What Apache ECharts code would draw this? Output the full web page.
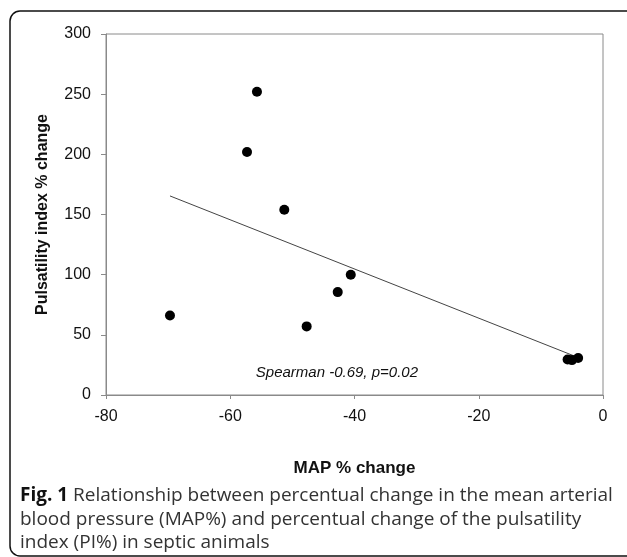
<!DOCTYPE html>
<html>
<head>
<meta charset="utf-8">
<script src="https://cdn.jsdelivr.net/npm/echarts@6/dist/echarts.min.js"></script>
<style>
html,body{margin:0;padding:0;background:#fff;}
#chart{width:627px;height:557px;}
</style>
</head>
<body>
<div id="chart"></div>
<script>
// ---- data ----
const mapChange = [-69.7, -57.3, -55.7, -51.3, -47.7, -42.7, -40.6, -5.7, -5.0, -4.0];
const piChange  = [66, 202, 252, 154, 57, 85.5, 100, 29.5, 29, 30.8];
const xTicks = [-80, -60, -40, -20, 0];
const yTicks = [0, 50, 100, 150, 200, 250, 300];
const statText = 'Spearman -0.69, p=0.02';
const xTitle = 'MAP % change';
const yTitle = 'Pulsatility index % change';
const captionBold = 'Fig. 1';
const captionLines = [
  ' Relationship between percentual change in the mean arterial',
  'blood pressure (MAP%) and percentual change of the pulsatility',
  'index (PI%) in septic animals'
];

// least-squares trend line computed from data
const n = mapChange.length;
const mx = mapChange.reduce((a,b)=>a+b,0)/n;
const my = piChange.reduce((a,b)=>a+b,0)/n;
let sxy = 0, sxx = 0;
for (let i=0;i<n;i++){ sxy += (mapChange[i]-mx)*(piChange[i]-my); sxx += (mapChange[i]-mx)**2; }
const slope = sxy/sxx, icpt = my - slope*mx;
const xMin = Math.min(...mapChange), xMax = Math.max(...mapChange);
const trend = [[xMin, icpt+slope*xMin],[xMax, icpt+slope*xMax]];

const pts = mapChange.map((x,i)=>[x, piChange[i]]);
const axisFont = {fontFamily:'Liberation Sans, Arial, sans-serif', fontSize:16, color:'#111'};

const chart = echarts.init(document.getElementById('chart'), null, {renderer:'canvas'});
chart.setOption({
  animation:false,
  backgroundColor:'#fff',
  grid:{left:106, right:24, top:34, bottom:162, show:true, borderColor:'#8a8a8a', borderWidth:1, backgroundColor:'transparent'},
  xAxis:{
    type:'value', min:xTicks[0], max:xTicks[xTicks.length-1], interval:20,
    name:xTitle, nameLocation:'middle', nameGap:65,
    nameTextStyle:{fontFamily:'Liberation Sans, Arial, sans-serif', fontSize:17, fontWeight:'bold', color:'#111'},
    axisLine:{onZero:false, lineStyle:{color:'#8a8a8a', width:1}},
    axisTick:{show:true, inside:false, length:4, lineStyle:{color:'#8a8a8a'}},
    axisLabel:Object.assign({margin:14}, axisFont),
    splitLine:{show:false}
  },
  yAxis:{
    type:'value', min:yTicks[0], max:yTicks[yTicks.length-1], interval:50,
    name:yTitle, nameLocation:'middle', nameGap:55,
    nameTextStyle:{fontFamily:'Liberation Sans, Arial, sans-serif', fontSize:16, fontWeight:'bold', color:'#111'},
    axisLine:{onZero:false, lineStyle:{color:'#8a8a8a', width:1}},
    axisTick:{show:true, inside:false, length:5, lineStyle:{color:'#8a8a8a'}},
    axisLabel:Object.assign({margin:15}, axisFont),
    splitLine:{show:false}
  },
  series:[
    {type:'line', data:trend, symbol:'none', lineStyle:{color:'#444', width:1}, silent:true, z:1},
    {type:'scatter', data:pts, symbol:'circle', symbolSize:10, itemStyle:{color:'#000', opacity:1}, z:2}
  ],
  graphic:[
    {type:'rect', shape:{x:10, y:11, width:630, height:545, r:10}, style:{fill:'none', stroke:'#111', lineWidth:1.5}, silent:true},
    {type:'text', x:418, y:373, style:{text:statText, font:'italic 15px "Liberation Sans", Arial, sans-serif', fill:'#111', align:'right', verticalAlign:'middle'}},
    {type:'text', x:20, y:484, style:{
      text:'{b|'+captionBold+'}{r|'+captionLines[0]+'}\n{r|'+captionLines[1]+'}\n{r|'+captionLines[2]+'}',
      rich:{
        b:{fontFamily:'Open Sans', fontWeight:'bold', fontSize:19, fill:'#111', lineHeight:23.5},
        r:{fontFamily:'Open Sans', fontSize:19, fill:'#333', lineHeight:23.5}
      },
      verticalAlign:'top'
    }}
  ]
});
</script>
</body>
</html>
